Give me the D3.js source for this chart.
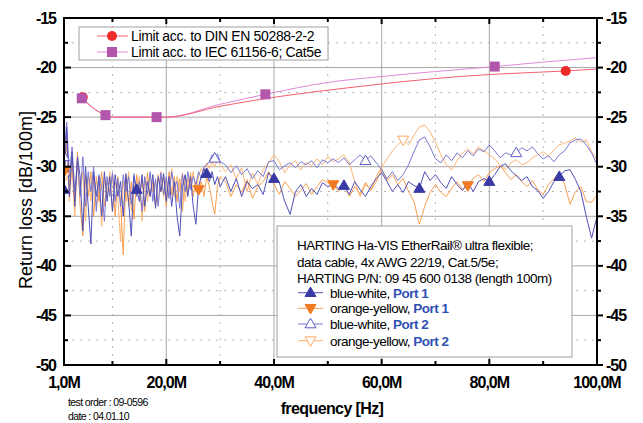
<!DOCTYPE html>
<html><head><meta charset="utf-8">
<script src="https://cdn.jsdelivr.net/npm/d3@7"></script>
<style>body{margin:0;background:#fff}svg{display:block}</style>
</head><body>
<svg id="c" width="643" height="423"></svg>
<script>
// ---------- DATA ----------
const freqs = [...d3.range(1, 30.01, 0.5), ...d3.range(31, 100.01, 1)];
const bw1 = [-32.3,-26,-33,-28.5,-34,-29,-31,-36.5,-30,-34,
-37.8,-30.5,-33,-31,-35,-30.5,-33.5,-31,-34.5,-30.8,
-33,-31.5,-35,-30.7,-33.5,-37,-31,-32.3,-33.5,-30.8,
-34,-31.5,-33,-30.8,-34.2,-31,-32.5,-30.7,-33.5,-31,
-34,-31.5,-35,-37,-32,-30.8,-33,-31,-34,-35.8,
-32,-31,-30.2,-30.7,-31.5,-30.5,-31.8,-31,-32,
-31,-32.5,-31.2,-33,-31.5,-32.2,-31.8,-32.8,-30.6,-31.2,
-31.6,-33.5,-34.8,-32.5,-31.8,-33,-32.2,-32.8,-31.6,-32,
-31.8,-32.2,-31.9,-32.8,-31.5,-32.3,-33,-32,-31.2,-30.6,
-31.5,-32.5,-31.8,-32.6,-31.5,-31.9,-32.2,-30.5,-31.4,-30.8,
-31.6,-32.2,-31,-31.8,-32.4,-31.6,-32.5,-31.5,-31.2,-31.5,
-30.8,-30,-29.7,-30.4,-30.9,-31.4,-31,-32,-32.4,-33.2,
-32.5,-31.5,-31,-30.4,-30.3,-31.3,-32.5,-35,-37.2,-35];
const oy1 = [-30.5,-27,-32,-29,-33.5,-28.5,-34,-37,-31,-33,
-30.5,-35,-31,-33.5,-30.5,-34,-31.5,-32.5,-30.8,-35,
-31,-33.5,-38.9,-31,-34,-31.5,-35.3,-30.8,-33,-31.3,
-34.5,-30.6,-33,-31.5,-34,-30.8,-32.5,-31,-34,-30.5,
-32.8,-31,-33.5,-31.2,-34.5,-31,-32.5,-30.6,-33,-31.5,
-32.3,-31.5,-33,-31,-32,-33.5,-34.8,-32,-31,
-31.5,-33,-31.8,-32.6,-31.3,-33.2,-32,-31.5,-30.5,-31.8,
-32.8,-31.5,-32.2,-33,-32.4,-31.7,-32.8,-32,-31.3,-31.6,
-31.8,-32.5,-31.8,-33,-32,-32.8,-31.6,-32.4,-31.5,-30.2,
-31.4,-30.8,-31.8,-31.2,-32.5,-33.5,-35.8,-34,-32.6,-31.8,
-32.6,-33,-32.2,-31.5,-32.3,-31.9,-31.2,-30.8,-31.5,-30.6,
-30.2,-29.9,-30.6,-31.3,-30.8,-31.5,-32,-31.4,-32.3,-32.8,
-31.8,-31.2,-30.6,-31.8,-33.8,-32.5,-32,-33.5,-33.6,-32.8];
const bw2 = [-29,-25.5,-31,-28,-32.5,-29.5,-33,-29,-34,-30.5,
-32.5,-30,-34.5,-30.8,-32,-35.5,-31,-33,-30.6,-33.5,
-31.2,-34,-30.8,-32.5,-31,-33.8,-30.7,-33,-31.5,-34.5,
-31,-32.8,-30.5,-33.5,-31.2,-34,-30.6,-32.8,-31,-33.2,
-30.5,-32,-31.5,-34.2,-30.8,-32.5,-30.5,-32.3,-31,-31.8,
-30.5,-31.2,-30,-29.8,-29.5,-28.8,-29.15,-28.7,-29.5,
-29.8,-30.6,-29.9,-30.8,-30.2,-31.2,-30.4,-31,-29.5,-29.4,
-30.3,-29.9,-29.6,-30.1,-29.5,-29.8,-29.4,-30.1,-29.3,-29.6,
-29.2,-29.6,-29.1,-29.8,-29.3,-28.8,-29.4,-28.9,-29.6,-30.3,
-31.2,-30.5,-31.4,-30.8,-29.8,-28.5,-27.3,-27,-28,-29.2,
-29.6,-28.8,-29.4,-28.6,-29.1,-28.4,-28.9,-28.2,-28.5,-27.8,
-28.4,-29.1,-28.6,-28.8,-28.6,-28.1,-28.4,-28,-28.7,-29.2,
-28.9,-29.5,-28.8,-28.4,-27.6,-27.3,-27.2,-27.8,-28.6,-29.8];
const oy2 = [-31,-28,-33.5,-30,-35,-29.5,-32.5,-30.5,-35.5,-31,
-33.5,-30.8,-34,-32,-36,-31,-33,-30.5,-34.5,-31.5,
-33,-37.5,-31.5,-33.5,-30.5,-34.5,-31.8,-33,-31,-35.5,
-31,-33.5,-30.8,-32.5,-31.5,-33.8,-30.5,-33,-31.5,-32.8,
-30.2,-33,-31,-32.5,-30.6,-33.5,-31.2,-32,-30.5,-32.5,
-31,-30.2,-30.5,-29.6,-30.2,-29.5,-30,-29.3,-29.8,
-30.5,-29.8,-31.2,-30.1,-32.5,-30.6,-31.8,-30.3,-29.6,-28.8,
-29.5,-30.6,-29.8,-29.4,-30.3,-29.6,-29.9,-29.2,-29.8,-29,
-29.5,-29.2,-28.8,-29.6,-31.5,-33,-31.8,-32.3,-31,-30,
-29.2,-28.4,-27.8,-27.3,-27.8,-26.8,-26,-25.8,-26.5,-27.5,
-28.8,-29.8,-30.3,-29.4,-28.6,-28.2,-28.7,-28,-28.4,-28.8,
-29.2,-29.9,-30.3,-29.6,-29.3,-29.8,-29.6,-29.1,-28.8,-28.5,
-28.9,-28.3,-27.8,-27.6,-27.4,-27.1,-27.5,-27.3,-28.5,-29.3];

// marker frequencies for each series
const bw1Marks = [1, 14.5, 27.5, 40, 53, 67, 80, 93];
const oy1Marks = [1, 26, 51, 76];
const bw2Marks = [1, 29, 57, 85];
const oy2Marks = [1, 64];

// limit curves
const dinF = [4.3, 6, 8.7, 10, 20, 30, 40, 56, 70, 80, 94, 100];
const dinV = [-23.0, -23.9, -24.8, -25, -25, -23.9, -23.0, -21.9, -21.1, -20.7, -20.35, -20.15];
const dinMarks = [4.3, 94];
const iecF = [4.3, 6, 8.7, 10, 18.2, 20, 30, 38.4, 50, 60, 70, 81, 90, 100];
const iecV = [-23.1, -23.9, -24.8, -25, -25, -25, -23.7, -22.7, -21.5, -20.9, -20.4, -19.9, -19.45, -19.0];
const iecMarks = [4.3, 8.7, 18.2, 38.4, 81];

const xTicks = [1, 20, 40, 60, 80, 100];
const xTickLabels = ["1,0M", "20,0M", "40,0M", "60,0M", "80,0M", "100,0M"];
const xMinor = [10, 30, 50, 70, 90];
const yTicks = [-15, -20, -25, -30, -35, -40, -45, -50];
const yMinor = [-17.5, -22.5, -27.5, -32.5, -37.5, -42.5, -47.5];

const legendTop = ["Limit acc. to DIN EN 50288-2-2", "Limit acc. to IEC 61156-6; Cat5e"];
const legendInfo = ["HARTING Ha-VIS EtherRail\u00ae ultra flexible;", "data cable, 4x AWG 22/19, Cat.5/5e;", "HARTING P/N: 09 45 600 0138 (length 100m)"];
const legendSeries = [["blue-white, ", "Port 1"], ["orange-yellow, ", "Port 1"], ["blue-white, ", "Port 2"], ["orange-yellow, ", "Port 2"]];

// ---------- DRAW ----------
const svg = d3.select("#c");
const L = 64, R = 597, T = 18, B = 365;
const x = d3.scaleLinear().domain([1, 100]).range([L, R]);
const y = d3.scaleLinear().domain([-50, -15]).range([B, T]);
const tickFont = "'Liberation Sans Narrow','Liberation Sans',Arial,sans-serif";
const txtFont = "'Liberation Sans',Arial,sans-serif";

// grid
const g = svg.append("g");
g.selectAll(".gmy").data(yMinor).join("line").attr("x1", L).attr("x2", R)
  .attr("y1", d => y(d)).attr("y2", d => y(d)).attr("stroke", "#b4b4b4").attr("stroke-dasharray", "2,6");
g.selectAll(".gmx").data(xMinor).join("line").attr("y1", T).attr("y2", B)
  .attr("x1", d => x(d)).attr("x2", d => x(d)).attr("stroke", "#b4b4b4").attr("stroke-dasharray", "2,6");
g.selectAll(".gy").data(yTicks.slice(1, -1)).join("line").attr("x1", L).attr("x2", R)
  .attr("y1", d => y(d)).attr("y2", d => y(d)).attr("stroke", "#a8a8a8").attr("stroke-width", 1);
g.selectAll(".gx").data(xTicks.slice(1, -1)).join("line").attr("y1", T).attr("y2", B)
  .attr("x1", d => x(d)).attr("x2", d => x(d)).attr("stroke", "#a8a8a8").attr("stroke-width", 1);

svg.append("clipPath").attr("id", "clip").append("rect").attr("x", L).attr("y", T).attr("width", R - L).attr("height", B - T);
const plot = svg.append("g").attr("clip-path", "url(#clip)");

const line = d3.line().x(d => x(d[0])).y(d => y(d[1]));
const series = [
  {v: oy2, color: "#ffb574", w: 1, marks: oy2Marks, sym: "down", fill: "#fff", stroke: "#ffa860"},
  {v: oy1, color: "#f8a050", w: 1, marks: oy1Marks, sym: "down", fill: "#f07a22", stroke: "#f07a22"},
  {v: bw2, color: "#7878d4", w: 1, marks: bw2Marks, sym: "up", fill: "#fff", stroke: "#5c5cc4"},
  {v: bw1, color: "#5050b8", w: 1, marks: bw1Marks, sym: "up", fill: "#3a3aa6", stroke: "#3a3aa6"}
];
series.forEach(s => {
  plot.append("path").datum(freqs.map((f, i) => [f, s.v[i]])).attr("d", line)
    .attr("fill", "none").attr("stroke", s.color).attr("stroke-width", s.w).attr("stroke-linejoin", "round");
});

// limit curves
const cline = d3.line().x(d => x(d[0])).y(d => y(d[1])).curve(d3.curveMonotoneX);
plot.append("path").datum(iecF.map((f, i) => [f, iecV[i]])).attr("d", cline)
  .attr("fill", "none").attr("stroke", "#dc8ad8").attr("stroke-width", 1);
plot.append("path").datum(dinF.map((f, i) => [f, dinV[i]])).attr("d", cline)
  .attr("fill", "none").attr("stroke", "#f26070").attr("stroke-width", 1);

function tri(sym, cx, cy, sz) {
  const h = sz * 0.866;
  return sym === "up"
    ? `M${cx},${cy - h * 0.6}L${cx + sz / 2},${cy + h * 0.4}L${cx - sz / 2},${cy + h * 0.4}Z`
    : `M${cx},${cy + h * 0.6}L${cx + sz / 2},${cy - h * 0.4}L${cx - sz / 2},${cy - h * 0.4}Z`;
}
series.forEach(s => {
  plot.selectAll(null).data(s.marks).join("path")
    .attr("d", f => tri(s.sym, x(f), y(s.v[freqs.indexOf(f)]), 11))
    .attr("fill", s.fill).attr("stroke", s.stroke).attr("stroke-width", 1);
});
const iecAt = f => iecV[iecF.indexOf(f)];
const dinAt = f => dinV[dinF.indexOf(f)];
plot.selectAll(null).data(dinMarks).join("circle").attr("cx", d => x(d) + 1).attr("cy", d => y(dinAt(d)))
  .attr("r", 5).attr("fill", "#ee2a2a");
plot.selectAll(null).data(iecMarks).join("rect").attr("x", d => x(d) - 5).attr("y", d => y(iecAt(d)) - 5)
  .attr("width", 10).attr("height", 10).attr("fill", "#b156ab");

// frame
svg.append("rect").attr("x", L).attr("y", T).attr("width", R - L).attr("height", B - T)
  .attr("fill", "none").attr("stroke", "#000").attr("stroke-width", 2);

// ticks
const tk = svg.append("g").attr("stroke", "#000").attr("stroke-width", 2);
tk.selectAll(null).data(yTicks).join("line").attr("x1", L).attr("x2", L + 7).attr("y1", d => y(d)).attr("y2", d => y(d));
tk.selectAll(null).data(yMinor).join("line").attr("x1", L).attr("x2", L + 4).attr("y1", d => y(d)).attr("y2", d => y(d));
tk.selectAll(null).data(yTicks).join("line").attr("x1", R).attr("x2", R + 6).attr("y1", d => y(d)).attr("y2", d => y(d));
tk.selectAll(null).data(yMinor).join("line").attr("x1", R).attr("x2", R + 4).attr("y1", d => y(d)).attr("y2", d => y(d));
tk.selectAll(null).data(xTicks).join("line").attr("y1", B).attr("y2", B - 6).attr("x1", d => x(d)).attr("x2", d => x(d));
tk.selectAll(null).data(xMinor).join("line").attr("y1", B).attr("y2", B - 4).attr("x1", d => x(d)).attr("x2", d => x(d));
tk.selectAll(null).data(xTicks).join("line").attr("y1", T).attr("y2", T + 6).attr("x1", d => x(d)).attr("x2", d => x(d));
tk.selectAll(null).data(xMinor).join("line").attr("y1", T).attr("y2", T + 4).attr("x1", d => x(d)).attr("x2", d => x(d));

// tick labels
const lab = svg.append("g").attr("font-family", tickFont).attr("font-weight", "bold").attr("font-size", 16)
  .attr("letter-spacing", "-1").attr("fill", "#000");
lab.selectAll(null).data(yTicks).join("text").attr("x", L - 8).attr("y", d => y(d) + 5.5).attr("text-anchor", "end").text(d => d);
lab.selectAll(null).data(yTicks).join("text").attr("x", R + 9).attr("y", d => y(d) + 5.5).attr("text-anchor", "start").text(d => d);
lab.selectAll(null).data(xTicks).join("text").attr("x", d => x(d)).attr("y", 388).attr("text-anchor", "middle").text((d, i) => xTickLabels[i]);

// axis titles
svg.append("text").attr("transform", `translate(32,200) rotate(-90)`).attr("text-anchor", "middle")
  .attr("font-family", txtFont).attr("font-size", 18).text("Return loss [dB/100m]");
svg.append("text").attr("x", 332).attr("y", 414).attr("text-anchor", "middle").attr("font-family", tickFont)
  .attr("font-weight", "bold").attr("font-size", 16).attr("letter-spacing", "-0.6").text("frequency [Hz]");
svg.append("text").attr("x", 68).attr("y", 406).attr("font-family", txtFont).attr("font-size", 10.5)
  .attr("letter-spacing", "-0.6").text("test order : 09-0596");
svg.append("text").attr("x", 68).attr("y", 420).attr("font-family", txtFont).attr("font-size", 10.5)
  .attr("letter-spacing", "-0.6").text("date : 04.01.10");

// legend 1
const l1 = svg.append("g");
l1.append("rect").attr("x", 79).attr("y", 27).attr("width", 249).attr("height", 33).attr("fill", "#fff").attr("stroke", "#a0a0a0");
[36, 52].forEach((cy, i) => {
  l1.append("line").attr("x1", 97).attr("x2", 128).attr("y1", cy).attr("y2", cy).attr("stroke", i ? "#dc8ad8" : "#f26070");
  if (i === 0) l1.append("circle").attr("cx", 112).attr("cy", cy).attr("r", 5).attr("fill", "#ee2a2a");
  else l1.append("rect").attr("x", 107).attr("y", cy - 5).attr("width", 10).attr("height", 10).attr("fill", "#b156ab");
  l1.append("text").attr("x", 131).attr("y", cy + 5).attr("font-family", txtFont).attr("font-size", 14)
    .attr("letter-spacing", "-0.35").text(legendTop[i]);
});

// legend 2
const l2 = svg.append("g");
l2.append("rect").attr("x", 277).attr("y", 226).attr("width", 295).attr("height", 131).attr("fill", "#fff").attr("stroke", "#a0a0a0");
[249.5, 266.5, 282.5].forEach((by, i) => {
  l2.append("text").attr("x", 297).attr("y", by).attr("font-family", txtFont).attr("font-size", 13.5)
    .attr("letter-spacing", "-0.5").text(legendInfo[i]);
});
const lsy = [292.7, 308.3, 324, 340.7];
const lsOrder = [3, 1, 2, 0];
lsy.forEach((cy, i) => {
  const s = series[lsOrder[i]];
  l2.append("line").attr("x1", 298).attr("x2", 323).attr("y1", cy).attr("y2", cy).attr("stroke", s.color);
  l2.append("path").attr("d", tri(s.sym, 310.5, cy, 11)).attr("fill", s.fill).attr("stroke", s.stroke);
  const t = l2.append("text").attr("x", 330).attr("y", cy + 5).attr("font-family", txtFont).attr("font-size", 13.5)
    .attr("letter-spacing", "-0.5");
  t.append("tspan").text(legendSeries[i][0]);
  t.append("tspan").attr("font-weight", "bold").attr("fill", "#3050b4").text(legendSeries[i][1]);
});
</script>
</body></html>
